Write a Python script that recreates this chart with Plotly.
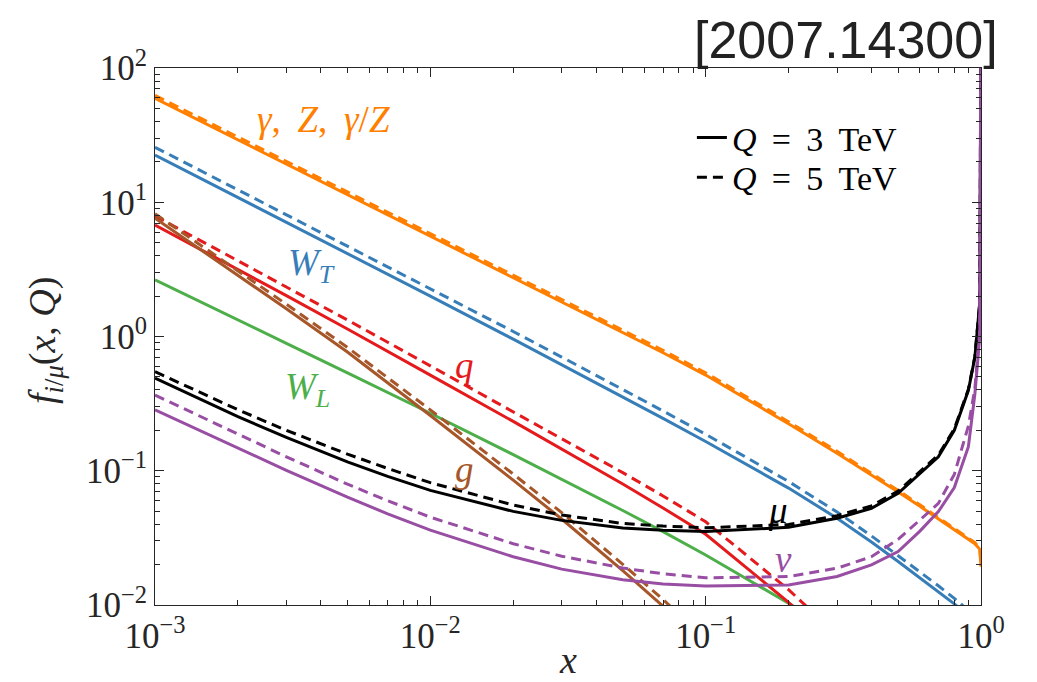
import plotly.graph_objects as go

# Momentum fraction grid shared by all curves
x_grid = [0.001, 0.002, 0.003, 0.005, 0.007, 0.01, 0.02, 0.03, 0.05, 0.07,
          0.1, 0.2, 0.3, 0.4, 0.5, 0.6, 0.7, 0.8, 0.9, 0.95, 0.99, 1.0]

# PDFs of a muon at Q = 3 TeV (solid) and Q = 5 TeV (dashed)
gamma_3tev = [59.5, 29.2, 19.3, 11.4, 8.09, 5.61, 2.75, 1.81, 1.07, 0.757,
              0.516, 0.224, 0.135, 0.0933, 0.0695, 0.0543, 0.044, 0.0365, 0.0309, 0.0286, 0.026, 0.0193]
gamma_5tev = [62.5, 30.6, 20.2, 11.9, 8.45, 5.86, 2.87, 1.89, 1.115, 0.788,
              0.537, 0.232, 0.1395, 0.0962, 0.0714, 0.0557, 0.0451, 0.0373, 0.0315, 0.0291, 0.0264, 0.0196]

wt_3tev = [22.5, 10.9, 7.10, 4.15, 2.92, 2.0, 0.955, 0.618, 0.356, 0.2455,
           0.165, 0.0743, 0.0443, 0.0295, 0.0211, 0.016, 0.0126, 0.0102, 0.0083]
wt_5tev = [25.7, 12.4, 8.09, 4.73, 3.33, 2.28, 1.09, 0.703, 0.405, 0.279,
           0.187, 0.0832, 0.0493, 0.0327, 0.0233, 0.0177, 0.0139, 0.0112, 0.0091]

q_3tev = [6.77, 3.16, 2.016, 1.137, 0.778, 0.516, 0.233, 0.1455, 0.0796, 0.0528, 0.0336, 0.01047, 0.0047]
q_5tev = [7.9, 3.687, 2.351, 1.327, 0.907, 0.604, 0.278, 0.175, 0.0968, 0.0649, 0.0417, 0.0130, 0.006]

wl_3tev = [2.64, 1.32, 0.89, 0.536, 0.384, 0.268, 0.132, 0.0869, 0.0506, 0.0352, 0.0236, 0.0103, 0.0063]

g_3tev = [7.6, 2.88, 1.61, 0.766, 0.455, 0.258, 0.0851, 0.0437, 0.0180, 0.0098]
g_5tev = [8.2, 3.11, 1.74, 0.83, 0.495, 0.284, 0.0945, 0.0488, 0.0201, 0.0110, 0.0055]

mu_3tev = [0.489, 0.253, 0.177, 0.1164, 0.0908, 0.0714, 0.0498, 0.0427, 0.0375, 0.0361,
           0.0353, 0.0379, 0.0443, 0.0525, 0.068, 0.095, 0.127, 0.20, 0.397, 0.70, 1.8, 300]
mu_5tev = [0.547, 0.285, 0.200, 0.133, 0.104, 0.0815, 0.0556, 0.0468, 0.0405, 0.0387,
           0.0376, 0.0398, 0.0463, 0.0548, 0.0705, 0.098, 0.131, 0.205, 0.405, 0.71, 1.8, 300]

nu_3tev = [0.284, 0.147, 0.1007, 0.0635, 0.0478, 0.0361, 0.02286, 0.0185, 0.01545, 0.01435,
           0.01387, 0.0141, 0.0163, 0.0199, 0.025, 0.0355, 0.0496, 0.075, 0.151, 0.373, 1.0, 300]
nu_5tev = [0.366, 0.187, 0.127, 0.0794, 0.0598, 0.0451, 0.0286, 0.0231, 0.01885, 0.01708,
           0.01595, 0.0163, 0.0188, 0.0229, 0.0308, 0.043, 0.0571, 0.094, 0.216, 0.41, 1.1, 300]

# Set1-style palette
ORANGE = "#ff7f00"
BLUE = "#377eb8"
RED = "#e41a1c"
GREEN = "#4daf4a"
BROWN = "#a65628"
PURPLE = "#984ea3"
BLACK = "#000000"
AXIS = "#262626"

SERIF = "Liberation Serif"
LW = 3
DASH = "10px,6px"
THIN = "\u2009"

series = [
    (gamma_3tev, ORANGE, "solid"), (gamma_5tev, ORANGE, DASH),
    (wt_3tev, BLUE, "solid"), (wt_5tev, BLUE, DASH),
    (wl_3tev, GREEN, "solid"),
    (q_3tev, RED, "solid"), (q_5tev, RED, DASH),
    (g_3tev, BROWN, "solid"), (g_5tev, BROWN, DASH),
]

fig = go.Figure()
for vals, color, dash in series:
    fig.add_trace(go.Scatter(
        x=x_grid[:len(vals)], y=vals, mode="lines",
        line=dict(color=color, width=LW, dash=dash),
        showlegend=False, hoverinfo="skip"))

# muon curves also carry the two legend entries (one legend box each)
fig.add_trace(go.Scatter(x=x_grid, y=mu_3tev, mode="lines",
                         line=dict(color=BLACK, width=LW),
                         name=f"<i>Q</i> {THIN}={THIN} 3 {THIN}TeV",
                         showlegend=True, legend="legend"))
fig.add_trace(go.Scatter(x=x_grid, y=mu_5tev, mode="lines",
                         line=dict(color=BLACK, width=LW, dash=DASH),
                         name=f"<i>Q</i> {THIN}={THIN} 5 {THIN}TeV",
                         showlegend=True, legend="legend2"))
fig.add_trace(go.Scatter(x=x_grid, y=nu_3tev, mode="lines",
                         line=dict(color=PURPLE, width=LW), showlegend=False))
fig.add_trace(go.Scatter(x=x_grid, y=nu_5tev, mode="lines",
                         line=dict(color=PURPLE, width=LW, dash=DASH), showlegend=False))

x_major = [1e-3, 1e-2, 1e-1, 1]
x_labels = ["10<sup>−3</sup>", "10<sup>−2</sup>", "10<sup>−1</sup>", "10<sup>0</sup>"]
y_major = [1e-2, 1e-1, 1, 10, 100]
y_labels = ["10<sup>−2</sup>", "10<sup>−1</sup>", "10<sup>0</sup>", "10<sup>1</sup>", "10<sup>2</sup>"]
x_minor = [k * 10.0 ** n for n in range(-3, 0) for k in range(2, 10)]
y_minor = [k * 10.0 ** n for n in range(-2, 2) for k in range(2, 10)]

axis_common = dict(
    type="log", showline=True, linecolor=AXIS, linewidth=1, mirror="allticks",
    ticks="inside", ticklen=9, tickwidth=1, tickcolor=AXIS,
    showgrid=False, zeroline=False,
    tickfont=dict(family=SERIF, size=35, color=AXIS),
)

fig.update_xaxes(range=[-3, 0], tickmode="array", tickvals=x_major, ticktext=x_labels,
                 minor=dict(ticks="inside", ticklen=5, tickwidth=1, tickcolor=AXIS,
                            tickmode="array", tickvals=x_minor, showgrid=False),
                 **axis_common)
fig.update_yaxes(range=[-2, 2], tickmode="array", tickvals=y_major, ticktext=y_labels,
                 minor=dict(ticks="inside", ticklen=5, tickwidth=1, tickcolor=AXIS,
                            tickmode="array", tickvals=y_minor, showgrid=False),
                 **axis_common)

def label(text, x, y, color, size=36, angle=0, family=SERIF):
    return dict(text=text, x=x, y=y, xref="paper", yref="paper", showarrow=False,
                xanchor="center", yanchor="middle", textangle=angle,
                font=dict(family=family, size=size, color=color))

annotations = [
    label(f"<i>γ</i>, {THIN}<i>Z</i>, {THIN}<i>γ</i>/<i>Z</i>", 0.2034, 0.9032, ORANGE, size=37),
    label("<i>W</i><sub><i>T</i></sub>", 0.1889, 0.6331, BLUE, size=37),
    label("<i>W</i><sub><i>L</i></sub>", 0.1852, 0.4004, GREEN, size=37),
    label("<i>q</i>", 0.3753, 0.4451, RED, size=37),
    label("<i>g</i>", 0.3753, 0.2514, BROWN, size=37),
    label("<i>μ</i>", 0.7542, 0.1769, BLACK, size=37),
    label("<i>ν</i>", 0.7603, 0.0838, PURPLE, size=37),
    label("<i>x</i>", 0.5, -0.1024, AXIS, size=38),
    label("<i>f</i><sub><i>i</i>/<i>μ</i></sub>(<i>x</i>, <i>Q</i>)", -0.1332, 0.4935, AXIS,
          size=38, angle=-90),
    dict(text="[2007.14300]", x=1.023, y=1.052, xref="paper", yref="paper",
         showarrow=False, xanchor="right", yanchor="middle",
         font=dict(family="Liberation Sans", size=52, color="#222222")),
]

legend_style = dict(xanchor="left", yanchor="middle", bgcolor="rgba(0,0,0,0)",
                    borderwidth=0, itemwidth=30,
                    font=dict(family=SERIF, size=34, color=BLACK))

fig.update_layout(
    width=1037, height=682, autosize=False,
    margin=dict(l=155, r=56, t=68, b=77, pad=0),
    paper_bgcolor="white", plot_bgcolor="white",
    annotations=annotations,
    showlegend=True,
    legend=dict(x=0.650, y=0.870, **legend_style),
    legend2=dict(x=0.650, y=0.796, **legend_style),
)

fig.write_html("out.html")
